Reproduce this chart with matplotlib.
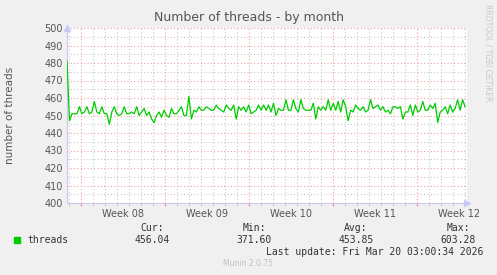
import numpy as np
import matplotlib
matplotlib.use("Agg")
import matplotlib.pyplot as plt
from matplotlib.ticker import MultipleLocator, FixedLocator, NullFormatter

# threads, one sample every ~2.5 h over the month window
threads = [
    481, 447, 451, 451, 451, 455, 451, 452, 455, 451, 452, 458, 452, 451, 455, 451,
    451, 445, 452, 455, 451, 450, 451, 455, 451, 451, 452, 451, 455, 450, 452, 454, 450,
    452, 448, 446, 450, 452, 449, 453, 450, 449, 454, 451, 451, 453, 455, 450, 450,
    461, 448, 453, 452, 455, 453, 453, 455, 454, 453, 453, 456, 454, 453, 452, 456,
    454, 453, 456, 448, 455, 453, 455, 452, 456, 451, 452, 453, 456, 453, 456, 453,
    456, 452, 457, 450, 454, 453, 453, 459, 453, 453, 459, 454, 452, 459, 454, 453,
    453, 453, 457, 448, 455, 453, 455, 453, 459, 453, 457, 453, 458, 452, 459, 455,
    447, 453, 452, 456, 454, 453, 455, 452, 453, 459, 454, 455, 456, 453, 455,
    452, 453, 451, 455, 455, 454, 455, 448, 452, 452, 456, 450, 456, 452, 453, 458,
    453, 453, 456, 454, 457, 446, 452, 453, 455, 451, 456, 452, 454, 459, 453, 459, 455,
]
span_days = 33.17          # time covered by the samples
window_days = 33.33        # width of the graph window
first_monday = 14 / 12     # days from window start to the first week boundary
weeks = ["Week 08", "Week 09", "Week 10", "Week 11", "Week 12"]
stats = {"Cur:": "456.04", "Min:": "371.60", "Avg:": "453.85", "Max:": "603.28"}
last_update = "Last update: Fri Mar 20 03:00:34 2026"

BG = "#F0F0F0"
fig = plt.figure(figsize=(4.97, 2.75), dpi=100, facecolor=BG)
ax = fig.add_axes([67 / 497, 72 / 275, 400 / 497, 175 / 275], facecolor="white")

x = np.linspace(0, span_days, len(threads))
ax.plot(x, threads, color="#00CC00", lw=0.9, zorder=3)

ax.set_xlim(0, window_days)
ax.set_ylim(400, 500)

wk = [first_monday + 7 * i for i in range(len(weeks))]
ax.xaxis.set_major_locator(FixedLocator(wk))
ax.xaxis.set_minor_locator(FixedLocator(np.arange(first_monday % 1, window_days, 1)))
ax.xaxis.set_major_formatter(NullFormatter())
ax.yaxis.set_major_locator(MultipleLocator(10))
ax.yaxis.set_minor_locator(MultipleLocator(5))

ax.grid(which="major", color="#F3A0A0", ls=(0, (1, 2)), lw=0.8, zorder=1)
ax.grid(which="minor", color="#C8C8C8", ls=(0, (1, 2)), lw=0.8, zorder=0)

for s in ["top", "right"]:
    ax.spines[s].set_visible(False)
for s in ["left", "bottom"]:
    ax.spines[s].set_color("#C8C8F0")
    ax.spines[s].set_linewidth(0.8)

ax.tick_params(axis="x", which="major", length=2, color="#F08080", direction="out")
ax.tick_params(axis="x", which="minor", length=2, color="#C0C0C0", direction="out")
ax.tick_params(axis="y", which="both", length=0, labelsize=7, labelcolor="#555555", pad=3)

sec = ax.secondary_xaxis("bottom")
sec.set_xticks([w + 3.5 for w in wk], weeks)
sec.tick_params(length=0, labelsize=7, labelcolor="#555555", pad=4)
sec.spines["bottom"].set_visible(False)

# axis arrows
ax.plot(0, 1, marker="^", ms=4, color="#C8C8F8", transform=ax.transAxes, clip_on=False)
ax.plot(1, 0, marker=">", ms=4, color="#C8C8F8", transform=ax.transAxes, clip_on=False)

fig.text(0.5, 1 - 18 / 275, "Number of threads - by month", ha="center", va="center",
         fontsize=9, color="#555555")
fig.text(10 / 497, 1 - 115 / 275, "number of threads", rotation=90, ha="center",
         va="center", fontsize=7.5, color="#555555")
fig.text(488 / 497, 1 - 53 / 275, "RRDTOOL / TOBI OETIKER", rotation=270, ha="center",
         va="center", fontsize=5.5, color="#C8C8C8")

# legend area
mono = "DejaVu Sans Mono"
fig.patches.append(plt.Rectangle((14 / 497, 1 - 243 / 275), 6 / 497, 6 / 275,
                                 transform=fig.transFigure, color="#00CC00"))
fig.text(27 / 497, 1 - 240 / 275, "threads", ha="left", va="center", fontsize=7,
         family=mono, color="#333333")
cols = [152, 254, 356, 458]
for cx, (k, v) in zip(cols, stats.items()):
    fig.text(cx / 497, 1 - 228 / 275, k, ha="center", va="center", fontsize=7,
             family=mono, color="#333333")
    fig.text(cx / 497, 1 - 240 / 275, v, ha="center", va="center", fontsize=7,
             family=mono, color="#333333")
fig.text(483 / 497, 1 - 252 / 275, last_update, ha="right", va="center", fontsize=7,
         family=mono, color="#333333")
fig.text(248 / 497, 1 - 264 / 275, "Munin 2.0.75", ha="center", va="center",
         fontsize=5.5, color="#C0C0C0")

fig.savefig("out.png", dpi=100, facecolor=BG)
